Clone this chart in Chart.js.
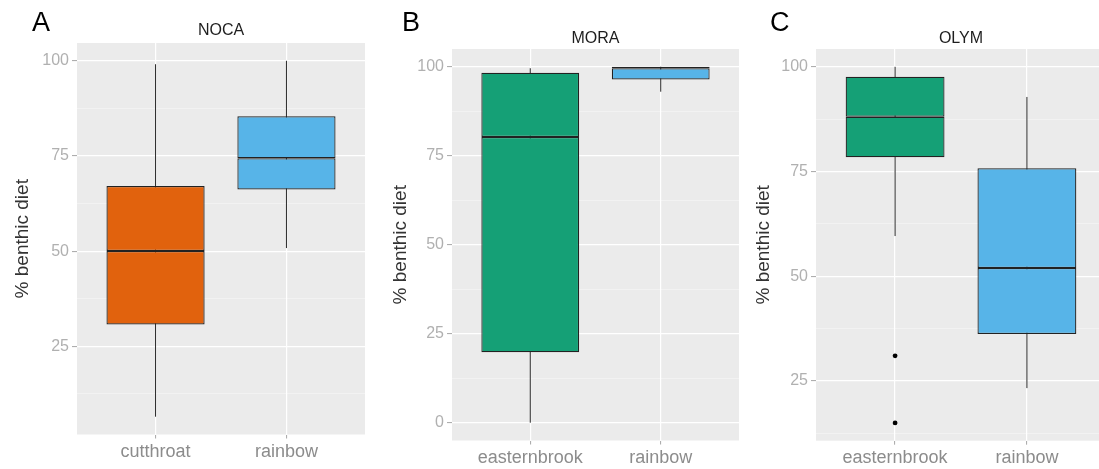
<!DOCTYPE html>
<html>
<head>
<meta charset="utf-8">
<title>Benthic diet by species and park</title>
<script src="https://cdn.jsdelivr.net/npm/chart.js@4.4.1/dist/chart.umd.min.js"></script>
<style>
  html, body { margin: 0; padding: 0; background: #ffffff; }
  body { width: 1099px; height: 469px; overflow: hidden; position: relative;
         font-family: "Liberation Sans", Arial, sans-serif; }
  canvas.panel { position: absolute; top: 0; }
  .letter { position: absolute; font-size: 27px; line-height: 27px; color: #000; }
</style>
</head>
<body>
<canvas id="noca" class="panel" width="370" height="469" style="left:0px;width:370px;height:469px"></canvas>
<canvas id="mora" class="panel" width="372" height="469" style="left:370px;width:372px;height:469px"></canvas>
<canvas id="olym" class="panel" width="370" height="469" style="left:742px;width:370px;height:469px"></canvas>
<div class="letter" style="left:32px;top:9px">A</div>
<div class="letter" style="left:402px;top:9px">B</div>
<div class="letter" style="left:770px;top:9px">C</div>
<script>
// Box-plot summaries of % benthic diet (whisker ends, quartiles, median, outliers)
const speciesNOCA = ['cutthroat', 'rainbow'];
const lowNOCA = [6.5, 50.8];
const q1NOCA = [30.7, 66.2];
const medianNOCA = [50.0, 74.4];
const q3NOCA = [67.1, 85.4];
const highNOCA = [99.1, 100.0];
const outliersNOCA = [[], []];
const majorTicksNOCA = [25, 50, 75, 100];

const speciesMORA = ['easternbrook', 'rainbow'];
const lowMORA = [0.0, 93.0];
const q1MORA = [19.8, 96.4];
const medianMORA = [80.3, 99.6];
const q3MORA = [98.3, 100.0];
const highMORA = [99.6, 100.0];
const outliersMORA = [[], []];
const majorTicksMORA = [0, 25, 50, 75, 100];

const speciesOLYM = ['easternbrook', 'rainbow'];
const lowOLYM = [59.6, 23.3];
const q1OLYM = [78.4, 36.2];
const medianOLYM = [88.1, 52.0];
const q3OLYM = [97.6, 75.8];
const highOLYM = [100.0, 92.8];
const outliersOLYM = [[31.0, 15.0], []];
const majorTicksOLYM = [25, 50, 75, 100];

const yAxisTitle = '% benthic diet';

const speciesColor = {
  cutthroat: '#e1620d',
  easternbrook: '#15a076',
  rainbow: '#57b4e8'
};

const FONT = '"Liberation Sans", Arial, sans-serif';
Chart.defaults.font.family = FONT;

// grey panel background behind the grid
const panelBackground = {
  id: 'panelBackground',
  beforeDraw(chart) {
    const { ctx, chartArea: a } = chart;
    ctx.save();
    ctx.fillStyle = '#ebebeb';
    ctx.fillRect(a.left, a.top, a.right - a.left, a.bottom - a.top);
    ctx.restore();
  }
};

function drawPanel(canvasId, title, species, low, q1, median, q3, high, outliers, majors, geom) {
  // y range: data extent plus 5% on each side
  const all = [...low, ...high, ...outliers.flat()];
  const lo = Math.min(...all), hi = Math.max(...all);
  const pad = (hi - lo) * 0.05;
  const yMin = lo - pad, yMax = hi + pad;

  // minor grid lines halfway between the labelled ticks
  const step = majors[1] - majors[0];
  const minors = [];
  for (let v = majors[0] - step / 2; v <= yMax; v += step) {
    if (v >= yMin) minors.push(v);
  }
  const yTicks = [...majors, ...minors].sort((a, b) => a - b);
  const isMajor = v => majors.includes(v);

  const xs = species.map((_, i) => i + 1);
  const fills = species.map(s => speciesColor[s]);

  // each box is two stacked-looking halves so the shared edge forms the median bar
  const boxStyle = {
    type: 'bar',
    backgroundColor: fills,
    borderColor: '#222222',
    borderWidth: 1.25,
    borderSkipped: false,
    grouped: false,
    barPercentage: 0.75,
    categoryPercentage: 1,
    order: 1
  };

  const datasets = [
    { ...boxStyle, data: xs.map((x, i) => ({ x, y: [q1[i], median[i]] })) },
    { ...boxStyle, data: xs.map((x, i) => ({ x, y: [median[i], q3[i]] })) }
  ];

  xs.forEach((x, i) => {
    datasets.push({
      type: 'line',
      data: [{ x, y: low[i] }, { x, y: high[i] }],
      borderColor: '#2a2a2a',
      borderWidth: 1,
      pointRadius: 0,
      order: 3
    });
  });

  datasets.push({
    type: 'line',
    showLine: false,
    data: outliers.flatMap((vals, i) => vals.map(v => ({ x: xs[i], y: v }))),
    pointRadius: 2.4,
    pointBackgroundColor: '#000000',
    pointBorderWidth: 0,
    order: 0
  });

  new Chart(document.getElementById(canvasId), {
    type: 'bar',
    data: { datasets },
    plugins: [panelBackground],
    options: {
      responsive: false,
      devicePixelRatio: 1,
      animation: false,
      events: [],
      layout: { padding: { left: 0, right: geom.padRight, top: 0, bottom: 0 } },
      plugins: {
        legend: { display: false },
        tooltip: { enabled: false },
        title: {
          display: true,
          text: title,
          color: '#1e1e1e',
          fullSize: false,
          font: { size: 16, weight: 'normal', family: FONT },
          padding: { top: geom.titleTop, bottom: geom.titleBottom }
        }
      },
      scales: {
        x: {
          type: 'linear',
          min: 0.4,
          max: species.length + 0.6,
          offset: false,
          afterBuildTicks: s => { s.ticks = xs.map(v => ({ value: v })); },
          afterFit: s => { s.height = geom.xHeight; },
          ticks: {
            autoSkip: false,
            maxRotation: 0,
            padding: 3,
            color: '#8c8c8c',
            font: { size: 18, family: FONT },
            callback: (v, i) => species[i]
          },
          grid: {
            offset: false,
            color: '#ffffff',
            lineWidth: 1.2,
            drawTicks: true,
            tickLength: 4,
            tickColor: '#a6a6a6',
            tickWidth: 1
          },
          border: { display: false }
        },
        y: {
          type: 'linear',
          min: yMin,
          max: yMax,
          afterBuildTicks: s => { s.ticks = yTicks.map(v => ({ value: v })); },
          afterFit: s => { s.width = geom.yWidth; },
          ticks: {
            autoSkip: false,
            padding: 3,
            color: '#b0b0b0',
            font: { size: 16, family: FONT },
            callback: v => (isMajor(v) ? String(v) : '')
          },
          grid: {
            color: c => (isMajor(c.tick.value) ? '#ffffff' : 'rgba(255,255,255,0.6)'),
            lineWidth: c => (isMajor(c.tick.value) ? 1.2 : 0.6),
            drawTicks: true,
            tickLength: 5,
            tickColor: c => (isMajor(c.tick.value) ? '#a6a6a6' : 'rgba(0,0,0,0)'),
            tickWidth: 1
          },
          border: { display: false },
          title: {
            display: true,
            text: yAxisTitle,
            color: '#333333',
            font: { size: 19, family: FONT },
            padding: { top: geom.yTitlePad, bottom: 0 }
          }
        }
      }
    }
  });
}

drawPanel('noca', 'NOCA', speciesNOCA, lowNOCA, q1NOCA, medianNOCA, q3NOCA, highNOCA,
  outliersNOCA, majorTicksNOCA,
  { yWidth: 77, padRight: 5, xHeight: 34.5, titleTop: 21.4, titleBottom: 2.4, yTitlePad: 11 });

drawPanel('mora', 'MORA', speciesMORA, lowMORA, q1MORA, medianMORA, q3MORA, highMORA,
  outliersMORA, majorTicksMORA,
  { yWidth: 82, padRight: 3, xHeight: 28.5, titleTop: 29.4, titleBottom: 0.4, yTitlePad: 19.6 });

drawPanel('olym', 'OLYM', speciesOLYM, lowOLYM, q1OLYM, medianOLYM, q3OLYM, highOLYM,
  outliersOLYM, majorTicksOLYM,
  { yWidth: 74, padRight: 6, xHeight: 28.3, titleTop: 29.4, titleBottom: 0.4, yTitlePad: 10.6 });
</script>
</body>
</html>
